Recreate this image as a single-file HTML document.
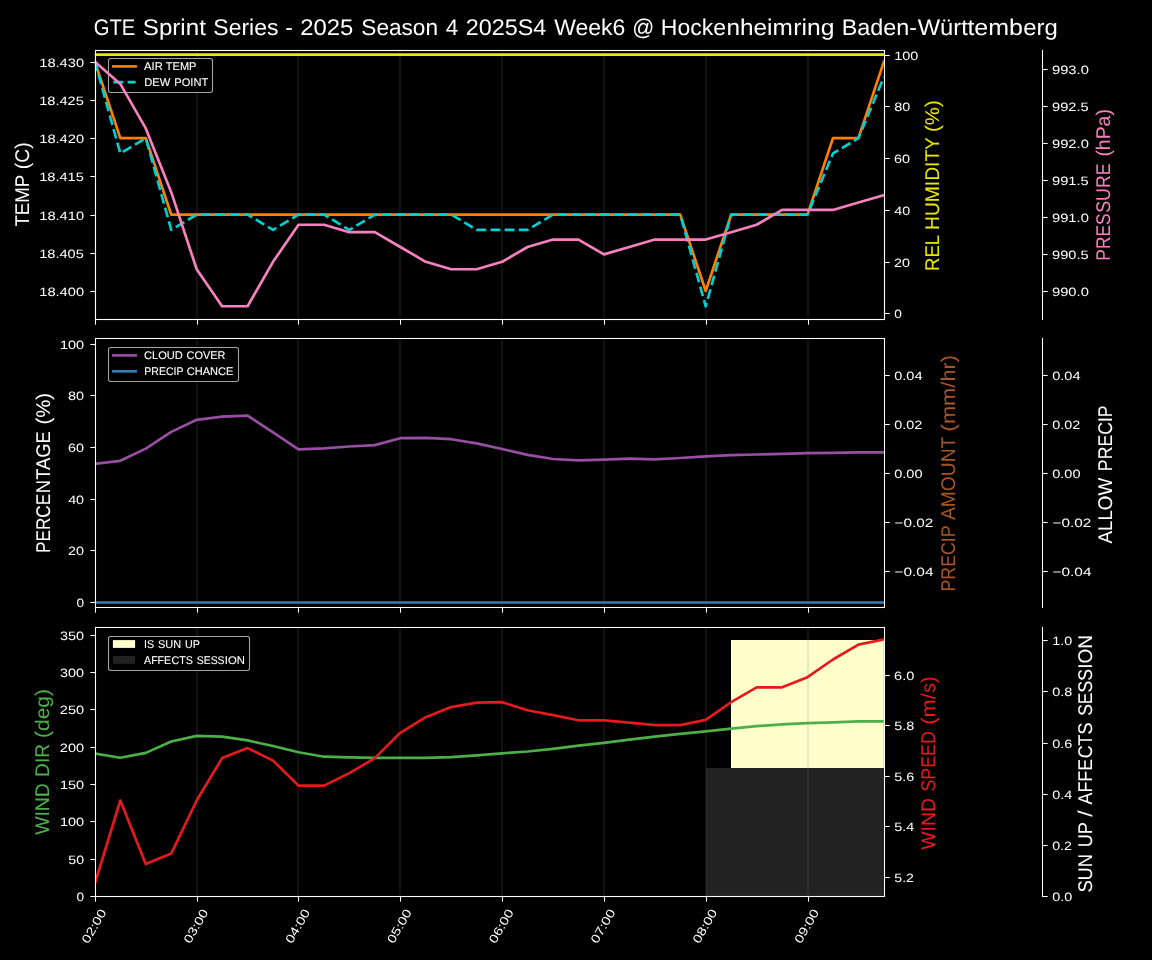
<!DOCTYPE html>
<html lang="en"><head><meta charset="utf-8"><title>GTE Sprint Series weather forecast</title>
<style>html,body{margin:0;padding:0;background:#000;overflow:hidden}svg{display:block;will-change:transform}text{text-rendering:geometricPrecision;font-family:"Liberation Sans",sans-serif}</style>
</head><body>
<svg width="1152" height="960" viewBox="0 0 1152 960">
<rect width="1152" height="960" fill="#000"/>
<defs>
<clipPath id="c0"><rect x="94.88" y="49.5" width="789" height="269"/></clipPath>
<clipPath id="c1"><rect x="94.88" y="338.36" width="789" height="269"/></clipPath>
<clipPath id="c2"><rect x="94.88" y="627.22" width="789" height="269"/></clipPath>
</defs>
<text font-size="22.61" fill="#ffffff" y="34.6" lengthAdjust="spacingAndGlyphs"><tspan x="93.65" textLength="41.61" lengthAdjust="spacingAndGlyphs">GTE</tspan> <tspan x="142.84" textLength="63.02" lengthAdjust="spacingAndGlyphs">Sprint</tspan> <tspan x="213.35" textLength="65.03" lengthAdjust="spacingAndGlyphs">Series</tspan> <tspan x="285.39" textLength="7.66" lengthAdjust="spacingAndGlyphs">-</tspan> <tspan x="300.21" textLength="53.07" lengthAdjust="spacingAndGlyphs">2025</tspan> <tspan x="361.3" textLength="76.7" lengthAdjust="spacingAndGlyphs">Season</tspan> <tspan x="445.65" textLength="12.51" lengthAdjust="spacingAndGlyphs">4</tspan> <tspan x="465.87" textLength="80.5" lengthAdjust="spacingAndGlyphs">2025S4</tspan> <tspan x="554.27" textLength="71.08" lengthAdjust="spacingAndGlyphs">Week6</tspan> <tspan x="632.17" textLength="22.02" lengthAdjust="spacingAndGlyphs">@</tspan> <tspan x="660.79" textLength="65.22" lengthAdjust="spacingAndGlyphs">Hocke</tspan><tspan x="726.44" textLength="66.35" lengthAdjust="spacingAndGlyphs">nheim</tspan><tspan x="793.3" textLength="41.11" lengthAdjust="spacingAndGlyphs">ring</tspan> <tspan x="841.71" textLength="75.42" lengthAdjust="spacingAndGlyphs">Baden-</tspan><tspan x="917.73" textLength="50.05" lengthAdjust="spacingAndGlyphs">Würt</tspan><tspan x="967.45" textLength="55.5" lengthAdjust="spacingAndGlyphs">temb</tspan><tspan x="1023.23" textLength="34.5" lengthAdjust="spacingAndGlyphs">erg</tspan></text>
<line x1="95" y1="49.5" x2="95" y2="318.5" stroke="#6e6e6e" stroke-opacity="0.155" stroke-width="2" clip-path="url(#c0)"/>
<line x1="197" y1="49.5" x2="197" y2="318.5" stroke="#6e6e6e" stroke-opacity="0.155" stroke-width="2" clip-path="url(#c0)"/>
<line x1="298" y1="49.5" x2="298" y2="318.5" stroke="#6e6e6e" stroke-opacity="0.155" stroke-width="2" clip-path="url(#c0)"/>
<line x1="400" y1="49.5" x2="400" y2="318.5" stroke="#6e6e6e" stroke-opacity="0.155" stroke-width="2" clip-path="url(#c0)"/>
<line x1="502" y1="49.5" x2="502" y2="318.5" stroke="#6e6e6e" stroke-opacity="0.155" stroke-width="2" clip-path="url(#c0)"/>
<line x1="604" y1="49.5" x2="604" y2="318.5" stroke="#6e6e6e" stroke-opacity="0.155" stroke-width="2" clip-path="url(#c0)"/>
<line x1="706" y1="49.5" x2="706" y2="318.5" stroke="#6e6e6e" stroke-opacity="0.155" stroke-width="2" clip-path="url(#c0)"/>
<line x1="808" y1="49.5" x2="808" y2="318.5" stroke="#6e6e6e" stroke-opacity="0.155" stroke-width="2" clip-path="url(#c0)"/>
<polyline points="94.88,61.73 120.33,138.15 145.78,138.15 171.23,214.57 196.68,214.57 222.13,214.57 247.58,214.57 273.04,214.57 298.49,214.57 323.94,214.57 349.39,214.57 374.84,214.57 400.29,214.57 425.75,214.57 451.2,214.57 476.65,214.57 502.1,214.57 527.55,214.57 553,214.57 578.46,214.57 603.91,214.57 629.36,214.57 654.81,214.57 680.26,214.57 705.71,290.99 731.17,214.57 756.62,214.57 782.07,214.57 807.52,214.57 832.97,138.15 858.42,138.15 883.88,61.73" fill="none" stroke="#ff7f00" stroke-width="2.67" stroke-linejoin="round" stroke-linecap="square" clip-path="url(#c0)"/>
<polyline points="94.88,61.73 120.33,153.43 145.78,138.15 171.23,229.85 196.68,214.57 222.13,214.57 247.58,214.57 273.04,229.85 298.49,214.57 323.94,214.57 349.39,229.85 374.84,214.57 400.29,214.57 425.75,214.57 451.2,214.57 476.65,229.85 502.1,229.85 527.55,229.85 553,214.57 578.46,214.57 603.91,214.57 629.36,214.57 654.81,214.57 680.26,214.57 705.71,306.27 731.17,214.57 756.62,214.57 782.07,214.57 807.52,214.57 832.97,153.43 858.42,138.15 883.88,77.01" fill="none" stroke="#00ced1" stroke-width="2.67" stroke-linejoin="round" stroke-dasharray="9.87 4.27" clip-path="url(#c0)" stroke-dashoffset="0.9"/>
<rect x="95.5" y="50.5" width="789" height="269" fill="none" stroke="#fff" stroke-width="1.07"/>
<line x1="1042.5" y1="50" x2="1042.5" y2="320" stroke="#ffffff" stroke-width="1.07"/>
<line x1="95.5" y1="319.5" x2="95.5" y2="324.7" stroke="#ffffff" stroke-width="1.07"/>
<line x1="197.5" y1="319.5" x2="197.5" y2="324.7" stroke="#ffffff" stroke-width="1.07"/>
<line x1="298.5" y1="319.5" x2="298.5" y2="324.7" stroke="#ffffff" stroke-width="1.07"/>
<line x1="400.5" y1="319.5" x2="400.5" y2="324.7" stroke="#ffffff" stroke-width="1.07"/>
<line x1="502.5" y1="319.5" x2="502.5" y2="324.7" stroke="#ffffff" stroke-width="1.07"/>
<line x1="604.5" y1="319.5" x2="604.5" y2="324.7" stroke="#ffffff" stroke-width="1.07"/>
<line x1="706.5" y1="319.5" x2="706.5" y2="324.7" stroke="#ffffff" stroke-width="1.07"/>
<line x1="808.5" y1="319.5" x2="808.5" y2="324.7" stroke="#ffffff" stroke-width="1.07"/>
<line x1="90.3" y1="62.5" x2="95.5" y2="62.5" stroke="#ffffff" stroke-width="1.07"/>
<text font-size="12.13" fill="#ffffff" y="66.85" lengthAdjust="spacingAndGlyphs" x="39.22" textLength="44.89">18.430</text>
<line x1="90.3" y1="100.5" x2="95.5" y2="100.5" stroke="#ffffff" stroke-width="1.07"/>
<text font-size="12.13" fill="#ffffff" y="104.85" lengthAdjust="spacingAndGlyphs" x="39.23" textLength="44.65">18.425</text>
<line x1="90.3" y1="138.5" x2="95.5" y2="138.5" stroke="#ffffff" stroke-width="1.07"/>
<text font-size="12.13" fill="#ffffff" y="142.85" lengthAdjust="spacingAndGlyphs" x="39.22" textLength="44.89">18.420</text>
<line x1="90.3" y1="176.5" x2="95.5" y2="176.5" stroke="#ffffff" stroke-width="1.07"/>
<text font-size="12.13" fill="#ffffff" y="180.85" lengthAdjust="spacingAndGlyphs" x="39.23" textLength="44.65">18.415</text>
<line x1="90.3" y1="215.5" x2="95.5" y2="215.5" stroke="#ffffff" stroke-width="1.07"/>
<text font-size="12.13" fill="#ffffff" y="219.85" lengthAdjust="spacingAndGlyphs" x="39.22" textLength="44.89">18.410</text>
<line x1="90.3" y1="253.5" x2="95.5" y2="253.5" stroke="#ffffff" stroke-width="1.07"/>
<text font-size="12.13" fill="#ffffff" y="257.85" lengthAdjust="spacingAndGlyphs" x="39.23" textLength="44.65">18.405</text>
<line x1="90.3" y1="291.5" x2="95.5" y2="291.5" stroke="#ffffff" stroke-width="1.07"/>
<text font-size="12.13" fill="#ffffff" y="295.85" lengthAdjust="spacingAndGlyphs" x="39.22" textLength="44.89">18.400</text>
<text transform="translate(29.4 184) rotate(-90)" font-size="19.79" fill="#ffffff" stroke="#ffffff" stroke-width="0.05" y="0" lengthAdjust="spacingAndGlyphs"><tspan x="-42.52" textLength="51.37" lengthAdjust="spacingAndGlyphs">TEMP</tspan> <tspan x="14.85" textLength="26.78" lengthAdjust="spacingAndGlyphs">(C)</tspan></text>
<rect x="108.5" y="58.5" width="104" height="34" rx="2.2" ry="2.2" fill="#000" fill-opacity="0.8" stroke="#cccccc" stroke-opacity="0.8" stroke-width="1.07"/>
<line x1="112.07" y1="66.4" x2="136.93" y2="66.4" stroke="#ff7f00" stroke-width="2.67"/>
<line x1="113.4" y1="82.2" x2="135.6" y2="82.2" stroke="#00ced1" stroke-width="2.67" stroke-dasharray="9.87 4.27"/>
<text font-size="11.11" fill="#ffffff" stroke="#ffffff" stroke-width="0.1" y="69.8" lengthAdjust="spacingAndGlyphs"><tspan x="144.06" textLength="18.73" lengthAdjust="spacingAndGlyphs">AIR</tspan> <tspan x="165.85" textLength="30.57" lengthAdjust="spacingAndGlyphs">TEMP</tspan></text>
<text font-size="11.11" fill="#ffffff" stroke="#ffffff" stroke-width="0.1" y="85.7" lengthAdjust="spacingAndGlyphs"><tspan x="144.17" textLength="26.06" lengthAdjust="spacingAndGlyphs">DEW</tspan> <tspan x="174.27" textLength="33.93" lengthAdjust="spacingAndGlyphs">POINT</tspan></text>
<line x1="94.88" y1="54.67" x2="883.88" y2="54.67" stroke="#e8e800" stroke-width="2.67"/>
<line x1="884.5" y1="55.5" x2="889.7" y2="55.5" stroke="#ffffff" stroke-width="1.07"/>
<text font-size="12.13" fill="#ffffff" y="59.85" lengthAdjust="spacingAndGlyphs" x="894.22" textLength="24.19">100</text>
<line x1="884.5" y1="106.5" x2="889.7" y2="106.5" stroke="#ffffff" stroke-width="1.07"/>
<text font-size="12.13" fill="#ffffff" y="110.85" lengthAdjust="spacingAndGlyphs" x="894.16" textLength="15.98">80</text>
<line x1="884.5" y1="158.5" x2="889.7" y2="158.5" stroke="#ffffff" stroke-width="1.07"/>
<text font-size="12.13" fill="#ffffff" y="162.85" lengthAdjust="spacingAndGlyphs" x="894.07" textLength="16.07">60</text>
<line x1="884.5" y1="210.5" x2="889.7" y2="210.5" stroke="#ffffff" stroke-width="1.07"/>
<text font-size="12.13" fill="#ffffff" y="214.85" lengthAdjust="spacingAndGlyphs" x="894.21" textLength="15.93">40</text>
<line x1="884.5" y1="262.5" x2="889.7" y2="262.5" stroke="#ffffff" stroke-width="1.07"/>
<text font-size="12.13" fill="#ffffff" y="266.85" lengthAdjust="spacingAndGlyphs" x="894.13" textLength="16.01">20</text>
<line x1="884.5" y1="313.5" x2="889.7" y2="313.5" stroke="#ffffff" stroke-width="1.07"/>
<text font-size="12.13" fill="#ffffff" y="317.85" lengthAdjust="spacingAndGlyphs" x="894.22" textLength="7.62">0</text>
<text transform="translate(938.8 185.6) rotate(-90)" font-size="19.79" fill="#e8e800" stroke="#e8e800" stroke-width="0.05" y="0" lengthAdjust="spacingAndGlyphs"><tspan x="-85.32" textLength="35.33" lengthAdjust="spacingAndGlyphs">REL</tspan> <tspan x="-44.31" textLength="48.99" lengthAdjust="spacingAndGlyphs">HUMI</tspan><tspan x="5.03" textLength="42.85" lengthAdjust="spacingAndGlyphs">DITY</tspan> <tspan x="53.71" textLength="31.62" lengthAdjust="spacingAndGlyphs">(%)</tspan></text>
<polyline points="94.88,61.73 120.33,83.96 145.78,128.42 171.23,192.14 196.68,269.21 222.13,306.26 247.58,306.26 273.04,261.8 298.49,224.75 323.94,224.75 349.39,232.16 374.84,232.16 400.29,246.98 425.75,261.8 451.2,269.21 476.65,269.21 502.1,261.8 527.55,246.98 553,239.57 578.46,239.57 603.91,254.39 629.36,246.98 654.81,239.57 680.26,239.57 705.71,239.57 731.17,232.16 756.62,224.75 782.07,209.93 807.52,209.93 832.97,209.93 858.42,202.52 883.88,195.11" fill="none" stroke="#f781bf" stroke-width="2.67" stroke-linejoin="round" stroke-linecap="square" clip-path="url(#c0)"/>
<line x1="1042.5" y1="69.5" x2="1047.7" y2="69.5" stroke="#ffffff" stroke-width="1.07"/>
<text font-size="12.13" fill="#ffffff" y="73.85" lengthAdjust="spacingAndGlyphs" x="1052.03" textLength="36.8">993.0</text>
<line x1="1042.5" y1="106.5" x2="1047.7" y2="106.5" stroke="#ffffff" stroke-width="1.07"/>
<text font-size="12.13" fill="#ffffff" y="110.85" lengthAdjust="spacingAndGlyphs" x="1052.03" textLength="36.56">992.5</text>
<line x1="1042.5" y1="143.5" x2="1047.7" y2="143.5" stroke="#ffffff" stroke-width="1.07"/>
<text font-size="12.13" fill="#ffffff" y="147.85" lengthAdjust="spacingAndGlyphs" x="1052.03" textLength="36.8">992.0</text>
<line x1="1042.5" y1="180.5" x2="1047.7" y2="180.5" stroke="#ffffff" stroke-width="1.07"/>
<text font-size="12.13" fill="#ffffff" y="184.85" lengthAdjust="spacingAndGlyphs" x="1052.03" textLength="36.56">991.5</text>
<line x1="1042.5" y1="217.5" x2="1047.7" y2="217.5" stroke="#ffffff" stroke-width="1.07"/>
<text font-size="12.13" fill="#ffffff" y="221.85" lengthAdjust="spacingAndGlyphs" x="1052.03" textLength="36.8">991.0</text>
<line x1="1042.5" y1="254.5" x2="1047.7" y2="254.5" stroke="#ffffff" stroke-width="1.07"/>
<text font-size="12.13" fill="#ffffff" y="258.85" lengthAdjust="spacingAndGlyphs" x="1052.03" textLength="36.56">990.5</text>
<line x1="1042.5" y1="291.5" x2="1047.7" y2="291.5" stroke="#ffffff" stroke-width="1.07"/>
<text font-size="12.13" fill="#ffffff" y="295.85" lengthAdjust="spacingAndGlyphs" x="1052.03" textLength="36.8">990.0</text>
<text transform="translate(1109.5 184.9) rotate(-90)" font-size="19.79" fill="#f781bf" stroke="#f781bf" stroke-width="0.05" y="0" lengthAdjust="spacingAndGlyphs"><tspan x="-75.76" textLength="47.22" lengthAdjust="spacingAndGlyphs">PRES</tspan><tspan x="-27.87" textLength="49.42" lengthAdjust="spacingAndGlyphs">SURE</tspan> <tspan x="28.31" textLength="47.45" lengthAdjust="spacingAndGlyphs">(hPa)</tspan></text>
<rect x="95.5" y="50.5" width="789" height="269" fill="none" stroke="#fff" stroke-width="1.07"/>
<line x1="95" y1="338.36" x2="95" y2="607.36" stroke="#6e6e6e" stroke-opacity="0.155" stroke-width="2" clip-path="url(#c1)"/>
<line x1="197" y1="338.36" x2="197" y2="607.36" stroke="#6e6e6e" stroke-opacity="0.155" stroke-width="2" clip-path="url(#c1)"/>
<line x1="298" y1="338.36" x2="298" y2="607.36" stroke="#6e6e6e" stroke-opacity="0.155" stroke-width="2" clip-path="url(#c1)"/>
<line x1="400" y1="338.36" x2="400" y2="607.36" stroke="#6e6e6e" stroke-opacity="0.155" stroke-width="2" clip-path="url(#c1)"/>
<line x1="502" y1="338.36" x2="502" y2="607.36" stroke="#6e6e6e" stroke-opacity="0.155" stroke-width="2" clip-path="url(#c1)"/>
<line x1="604" y1="338.36" x2="604" y2="607.36" stroke="#6e6e6e" stroke-opacity="0.155" stroke-width="2" clip-path="url(#c1)"/>
<line x1="706" y1="338.36" x2="706" y2="607.36" stroke="#6e6e6e" stroke-opacity="0.155" stroke-width="2" clip-path="url(#c1)"/>
<line x1="808" y1="338.36" x2="808" y2="607.36" stroke="#6e6e6e" stroke-opacity="0.155" stroke-width="2" clip-path="url(#c1)"/>
<polyline points="94.88,463.9 120.33,460.8 145.78,448.6 171.23,431.9 196.68,419.8 222.13,416.7 247.58,415.6 273.04,432.4 298.49,449.3 323.94,448.3 349.39,446.5 374.84,445.1 400.29,438.2 425.75,437.8 451.2,439.2 476.65,443.4 502.1,449 527.55,454.9 553,459 578.46,460.4 603.91,459.7 629.36,458.7 654.81,459.4 680.26,458 705.71,456.3 731.17,455.2 756.62,454.5 782.07,453.8 807.52,453.1 832.97,452.8 858.42,452.4 883.88,452.3" fill="none" stroke="#984ea3" stroke-width="2.67" stroke-linejoin="round" stroke-linecap="square" clip-path="url(#c1)"/>
<line x1="94.88" y1="602.5" x2="883.88" y2="602.5" stroke="#377eb8" stroke-width="2.67"/>
<rect x="95.5" y="338.5" width="789" height="269" fill="none" stroke="#fff" stroke-width="1.07"/>
<line x1="1042.5" y1="338" x2="1042.5" y2="608" stroke="#ffffff" stroke-width="1.07"/>
<line x1="95.5" y1="607.5" x2="95.5" y2="612.7" stroke="#ffffff" stroke-width="1.07"/>
<line x1="197.5" y1="607.5" x2="197.5" y2="612.7" stroke="#ffffff" stroke-width="1.07"/>
<line x1="298.5" y1="607.5" x2="298.5" y2="612.7" stroke="#ffffff" stroke-width="1.07"/>
<line x1="400.5" y1="607.5" x2="400.5" y2="612.7" stroke="#ffffff" stroke-width="1.07"/>
<line x1="502.5" y1="607.5" x2="502.5" y2="612.7" stroke="#ffffff" stroke-width="1.07"/>
<line x1="604.5" y1="607.5" x2="604.5" y2="612.7" stroke="#ffffff" stroke-width="1.07"/>
<line x1="706.5" y1="607.5" x2="706.5" y2="612.7" stroke="#ffffff" stroke-width="1.07"/>
<line x1="808.5" y1="607.5" x2="808.5" y2="612.7" stroke="#ffffff" stroke-width="1.07"/>
<line x1="90.3" y1="344.5" x2="95.5" y2="344.5" stroke="#ffffff" stroke-width="1.07"/>
<text font-size="12.13" fill="#ffffff" y="348.85" lengthAdjust="spacingAndGlyphs" x="59.91" textLength="24.19">100</text>
<line x1="90.3" y1="395.5" x2="95.5" y2="395.5" stroke="#ffffff" stroke-width="1.07"/>
<text font-size="12.13" fill="#ffffff" y="399.85" lengthAdjust="spacingAndGlyphs" x="68.12" textLength="15.98">80</text>
<line x1="90.3" y1="447.5" x2="95.5" y2="447.5" stroke="#ffffff" stroke-width="1.07"/>
<text font-size="12.13" fill="#ffffff" y="451.85" lengthAdjust="spacingAndGlyphs" x="68.03" textLength="16.07">60</text>
<line x1="90.3" y1="499.5" x2="95.5" y2="499.5" stroke="#ffffff" stroke-width="1.07"/>
<text font-size="12.13" fill="#ffffff" y="503.85" lengthAdjust="spacingAndGlyphs" x="68.16" textLength="15.93">40</text>
<line x1="90.3" y1="550.5" x2="95.5" y2="550.5" stroke="#ffffff" stroke-width="1.07"/>
<text font-size="12.13" fill="#ffffff" y="554.85" lengthAdjust="spacingAndGlyphs" x="68.09" textLength="16.01">20</text>
<line x1="90.3" y1="602.5" x2="95.5" y2="602.5" stroke="#ffffff" stroke-width="1.07"/>
<text font-size="12.13" fill="#ffffff" y="606.85" lengthAdjust="spacingAndGlyphs" x="76.45" textLength="7.62">0</text>
<text transform="translate(50 473) rotate(-90)" font-size="19.79" fill="#ffffff" stroke="#ffffff" stroke-width="0.05" y="0" lengthAdjust="spacingAndGlyphs"><tspan x="-79.96" textLength="59.04" lengthAdjust="spacingAndGlyphs">PERCE</tspan><tspan x="-20.14" textLength="61.89" lengthAdjust="spacingAndGlyphs">NTAGE</tspan> <tspan x="48.43" textLength="31.62" lengthAdjust="spacingAndGlyphs">(%)</tspan></text>
<rect x="108.5" y="347.5" width="130" height="34" rx="2.2" ry="2.2" fill="#000" fill-opacity="0.8" stroke="#cccccc" stroke-opacity="0.8" stroke-width="1.07"/>
<line x1="112.07" y1="355.4" x2="136.93" y2="355.4" stroke="#984ea3" stroke-width="2.67"/>
<line x1="112.07" y1="371.3" x2="136.93" y2="371.3" stroke="#377eb8" stroke-width="2.67"/>
<text font-size="11.11" fill="#ffffff" stroke="#ffffff" stroke-width="0.1" y="358.9" lengthAdjust="spacingAndGlyphs"><tspan x="144.06" textLength="38.8" lengthAdjust="spacingAndGlyphs">CLOUD</tspan> <tspan x="186.59" textLength="38.77" lengthAdjust="spacingAndGlyphs">COVER</tspan></text>
<text font-size="11.11" fill="#ffffff" stroke="#ffffff" stroke-width="0.1" y="374.8" lengthAdjust="spacingAndGlyphs"><tspan x="144.23" textLength="39.12" lengthAdjust="spacingAndGlyphs">PRECIP</tspan> <tspan x="186.77" textLength="46.5" lengthAdjust="spacingAndGlyphs">CHANCE</tspan></text>
<line x1="884.5" y1="375.5" x2="889.7" y2="375.5" stroke="#ffffff" stroke-width="1.07"/>
<text font-size="12.13" fill="#ffffff" y="379.85" lengthAdjust="spacingAndGlyphs" x="894.19" textLength="28.35">0.04</text>
<line x1="884.5" y1="424.5" x2="889.7" y2="424.5" stroke="#ffffff" stroke-width="1.07"/>
<text font-size="12.13" fill="#ffffff" y="428.85" lengthAdjust="spacingAndGlyphs" x="894.19" textLength="28.08">0.02</text>
<line x1="884.5" y1="473.5" x2="889.7" y2="473.5" stroke="#ffffff" stroke-width="1.07"/>
<text font-size="12.13" fill="#ffffff" y="477.85" lengthAdjust="spacingAndGlyphs" x="894.19" textLength="28.36">0.00</text>
<line x1="884.5" y1="522.5" x2="889.7" y2="522.5" stroke="#ffffff" stroke-width="1.07"/>
<text font-size="12.13" fill="#ffffff" y="526.85" lengthAdjust="spacingAndGlyphs" x="894.52" textLength="38.68">−0.02</text>
<line x1="884.5" y1="571.5" x2="889.7" y2="571.5" stroke="#ffffff" stroke-width="1.07"/>
<text font-size="12.13" fill="#ffffff" y="575.85" lengthAdjust="spacingAndGlyphs" x="894.52" textLength="38.94">−0.04</text>
<text transform="translate(955 473.4) rotate(-90)" font-size="19.79" fill="#a65628" stroke="#a65628" stroke-width="0.05" y="0" lengthAdjust="spacingAndGlyphs"><tspan x="-118.12" textLength="65.73" lengthAdjust="spacingAndGlyphs">PRECIP</tspan> <tspan x="-46.65" textLength="82.98" lengthAdjust="spacingAndGlyphs">AMOUNT</tspan> <tspan x="42.03" textLength="49.69" lengthAdjust="spacingAndGlyphs">(mm/</tspan><tspan x="91.92" textLength="26.32" lengthAdjust="spacingAndGlyphs">hr)</tspan></text>
<line x1="1042.5" y1="375.5" x2="1047.7" y2="375.5" stroke="#ffffff" stroke-width="1.07"/>
<text font-size="12.13" fill="#ffffff" y="379.85" lengthAdjust="spacingAndGlyphs" x="1052.19" textLength="28.35">0.04</text>
<line x1="1042.5" y1="424.5" x2="1047.7" y2="424.5" stroke="#ffffff" stroke-width="1.07"/>
<text font-size="12.13" fill="#ffffff" y="428.85" lengthAdjust="spacingAndGlyphs" x="1052.19" textLength="28.08">0.02</text>
<line x1="1042.5" y1="473.5" x2="1047.7" y2="473.5" stroke="#ffffff" stroke-width="1.07"/>
<text font-size="12.13" fill="#ffffff" y="477.85" lengthAdjust="spacingAndGlyphs" x="1052.19" textLength="28.36">0.00</text>
<line x1="1042.5" y1="522.5" x2="1047.7" y2="522.5" stroke="#ffffff" stroke-width="1.07"/>
<text font-size="12.13" fill="#ffffff" y="526.85" lengthAdjust="spacingAndGlyphs" x="1052.52" textLength="38.68">−0.02</text>
<line x1="1042.5" y1="571.5" x2="1047.7" y2="571.5" stroke="#ffffff" stroke-width="1.07"/>
<text font-size="12.13" fill="#ffffff" y="575.85" lengthAdjust="spacingAndGlyphs" x="1052.52" textLength="38.94">−0.04</text>
<text transform="translate(1112.3 474.6) rotate(-90)" font-size="19.79" fill="#ffffff" stroke="#ffffff" stroke-width="0.05" y="0" lengthAdjust="spacingAndGlyphs"><tspan x="-68.79" textLength="65.4" lengthAdjust="spacingAndGlyphs">ALLOW</tspan> <tspan x="3.47" textLength="65.73" lengthAdjust="spacingAndGlyphs">PRECIP</tspan></text>
<rect x="731" y="640" width="152.88" height="128" fill="#ffffcc"/>
<rect x="706" y="768" width="177.88" height="128.5" fill="#222222"/>
<line x1="95" y1="627.22" x2="95" y2="896.22" stroke="#6e6e6e" stroke-opacity="0.155" stroke-width="2" clip-path="url(#c2)"/>
<line x1="197" y1="627.22" x2="197" y2="896.22" stroke="#6e6e6e" stroke-opacity="0.155" stroke-width="2" clip-path="url(#c2)"/>
<line x1="298" y1="627.22" x2="298" y2="896.22" stroke="#6e6e6e" stroke-opacity="0.155" stroke-width="2" clip-path="url(#c2)"/>
<line x1="400" y1="627.22" x2="400" y2="896.22" stroke="#6e6e6e" stroke-opacity="0.155" stroke-width="2" clip-path="url(#c2)"/>
<line x1="502" y1="627.22" x2="502" y2="896.22" stroke="#6e6e6e" stroke-opacity="0.155" stroke-width="2" clip-path="url(#c2)"/>
<line x1="604" y1="627.22" x2="604" y2="896.22" stroke="#6e6e6e" stroke-opacity="0.155" stroke-width="2" clip-path="url(#c2)"/>
<line x1="706" y1="627.22" x2="706" y2="896.22" stroke="#6e6e6e" stroke-opacity="0.155" stroke-width="2" clip-path="url(#c2)"/>
<line x1="808" y1="627.22" x2="808" y2="896.22" stroke="#6e6e6e" stroke-opacity="0.155" stroke-width="2" clip-path="url(#c2)"/>
<polyline points="94.88,753.6 120.33,757.8 145.78,752.9 171.23,741.5 196.68,735.9 222.13,736.6 247.58,740.4 273.04,746 298.49,752.2 323.94,756.7 349.39,757.4 374.84,757.8 400.29,757.8 425.75,757.8 451.2,757.1 476.65,755.3 502.1,753.3 527.55,751.5 553,748.8 578.46,745.6 603.91,742.8 629.36,739.7 654.81,736.6 680.26,733.8 705.71,731.4 731.17,728.6 756.62,726.2 782.07,724.4 807.52,723.1 832.97,722.4 858.42,721.3 883.88,721.3" fill="none" stroke="#4daf4a" stroke-width="2.67" stroke-linejoin="round" stroke-linecap="square" clip-path="url(#c2)"/>
<polyline points="94.88,883.5 120.33,800.5 145.78,864 171.23,853.6 196.68,800.5 222.13,758.1 247.58,748.1 273.04,760.6 298.49,785.6 323.94,785.6 349.39,773.1 374.84,758.1 400.29,732.8 425.75,717.2 451.2,707.1 476.65,702.6 502.1,702.2 527.55,710.2 553,715.1 578.46,720.3 603.91,720.3 629.36,722.7 654.81,725.1 680.26,725.1 705.71,719.9 731.17,702.2 756.62,687.3 782.07,687.3 807.52,677.2 832.97,659.5 858.42,644.6 883.88,639.4" fill="none" stroke="#e41a1c" stroke-width="2.67" stroke-linejoin="round" stroke-linecap="square" clip-path="url(#c2)"/>
<rect x="95.5" y="627.5" width="789" height="269" fill="none" stroke="#fff" stroke-width="1.07"/>
<line x1="1042.5" y1="627" x2="1042.5" y2="897" stroke="#ffffff" stroke-width="1.07"/>
<line x1="95.5" y1="896.5" x2="95.5" y2="901.7" stroke="#ffffff" stroke-width="1.07"/>
<line x1="197.5" y1="896.5" x2="197.5" y2="901.7" stroke="#ffffff" stroke-width="1.07"/>
<line x1="298.5" y1="896.5" x2="298.5" y2="901.7" stroke="#ffffff" stroke-width="1.07"/>
<line x1="400.5" y1="896.5" x2="400.5" y2="901.7" stroke="#ffffff" stroke-width="1.07"/>
<line x1="502.5" y1="896.5" x2="502.5" y2="901.7" stroke="#ffffff" stroke-width="1.07"/>
<line x1="604.5" y1="896.5" x2="604.5" y2="901.7" stroke="#ffffff" stroke-width="1.07"/>
<line x1="706.5" y1="896.5" x2="706.5" y2="901.7" stroke="#ffffff" stroke-width="1.07"/>
<line x1="808.5" y1="896.5" x2="808.5" y2="901.7" stroke="#ffffff" stroke-width="1.07"/>
<line x1="90.3" y1="635.5" x2="95.5" y2="635.5" stroke="#ffffff" stroke-width="1.07"/>
<text font-size="12.13" fill="#ffffff" y="639.85" lengthAdjust="spacingAndGlyphs" x="60.03" textLength="24.07">350</text>
<line x1="90.3" y1="672.5" x2="95.5" y2="672.5" stroke="#ffffff" stroke-width="1.07"/>
<text font-size="12.13" fill="#ffffff" y="676.85" lengthAdjust="spacingAndGlyphs" x="60.03" textLength="24.07">300</text>
<line x1="90.3" y1="709.5" x2="95.5" y2="709.5" stroke="#ffffff" stroke-width="1.07"/>
<text font-size="12.13" fill="#ffffff" y="713.85" lengthAdjust="spacingAndGlyphs" x="59.81" textLength="24.3">250</text>
<line x1="90.3" y1="747.5" x2="95.5" y2="747.5" stroke="#ffffff" stroke-width="1.07"/>
<text font-size="12.13" fill="#ffffff" y="751.85" lengthAdjust="spacingAndGlyphs" x="59.81" textLength="24.3">200</text>
<line x1="90.3" y1="784.5" x2="95.5" y2="784.5" stroke="#ffffff" stroke-width="1.07"/>
<text font-size="12.13" fill="#ffffff" y="788.85" lengthAdjust="spacingAndGlyphs" x="59.91" textLength="24.19">150</text>
<line x1="90.3" y1="821.5" x2="95.5" y2="821.5" stroke="#ffffff" stroke-width="1.07"/>
<text font-size="12.13" fill="#ffffff" y="825.85" lengthAdjust="spacingAndGlyphs" x="59.91" textLength="24.19">100</text>
<line x1="90.3" y1="859.5" x2="95.5" y2="859.5" stroke="#ffffff" stroke-width="1.07"/>
<text font-size="12.13" fill="#ffffff" y="863.85" lengthAdjust="spacingAndGlyphs" x="68.29" textLength="15.8">50</text>
<line x1="90.3" y1="896.5" x2="95.5" y2="896.5" stroke="#ffffff" stroke-width="1.07"/>
<text font-size="12.13" fill="#ffffff" y="900.85" lengthAdjust="spacingAndGlyphs" x="76.45" textLength="7.62">0</text>
<text transform="translate(49.1 762) rotate(-90)" font-size="19.79" fill="#4daf4a" stroke="#4daf4a" stroke-width="0.05" y="0" lengthAdjust="spacingAndGlyphs"><tspan x="-72.85" textLength="51.59" lengthAdjust="spacingAndGlyphs">WIND</tspan> <tspan x="-14.89" textLength="32.94" lengthAdjust="spacingAndGlyphs">DIR</tspan> <tspan x="23.93" textLength="49.15" lengthAdjust="spacingAndGlyphs">(deg)</tspan></text>
<rect x="108.5" y="636.5" width="141" height="34" rx="2.2" ry="2.2" fill="#000" fill-opacity="0.8" stroke="#cccccc" stroke-opacity="0.8" stroke-width="1.07"/>
<rect x="112.9" y="640.1" width="22.2" height="7.8" fill="#ffffcc"/>
<rect x="112.9" y="656.0" width="22.2" height="7.8" fill="#222222"/>
<text font-size="11.11" fill="#ffffff" stroke="#ffffff" stroke-width="0.1" y="647.8" lengthAdjust="spacingAndGlyphs"><tspan x="144.1" textLength="10.1" lengthAdjust="spacingAndGlyphs">IS</tspan> <tspan x="158.1" textLength="23.06" lengthAdjust="spacingAndGlyphs">SUN</tspan> <tspan x="185.03" textLength="14.88" lengthAdjust="spacingAndGlyphs">UP</tspan></text>
<text font-size="11.11" fill="#ffffff" stroke="#ffffff" stroke-width="0.1" y="663.8" lengthAdjust="spacingAndGlyphs"><tspan x="144.07" textLength="27.08" lengthAdjust="spacingAndGlyphs">AFFE</tspan><tspan x="171.48" textLength="21.39" lengthAdjust="spacingAndGlyphs">CTS</tspan> <tspan x="196.79" textLength="27.78" lengthAdjust="spacingAndGlyphs">SESS</tspan><tspan x="224.76" textLength="20.12" lengthAdjust="spacingAndGlyphs">ION</tspan></text>
<line x1="884.5" y1="675.5" x2="889.7" y2="675.5" stroke="#ffffff" stroke-width="1.07"/>
<text font-size="12.13" fill="#ffffff" y="679.85" lengthAdjust="spacingAndGlyphs" x="894.07" textLength="20.21">6.0</text>
<line x1="884.5" y1="725.5" x2="889.7" y2="725.5" stroke="#ffffff" stroke-width="1.07"/>
<text font-size="12.13" fill="#ffffff" y="729.85" lengthAdjust="spacingAndGlyphs" x="894.33" textLength="19.98">5.8</text>
<line x1="884.5" y1="776.5" x2="889.7" y2="776.5" stroke="#ffffff" stroke-width="1.07"/>
<text font-size="12.13" fill="#ffffff" y="780.85" lengthAdjust="spacingAndGlyphs" x="894.33" textLength="20.06">5.6</text>
<line x1="884.5" y1="826.5" x2="889.7" y2="826.5" stroke="#ffffff" stroke-width="1.07"/>
<text font-size="12.13" fill="#ffffff" y="830.85" lengthAdjust="spacingAndGlyphs" x="894.33" textLength="19.94">5.4</text>
<line x1="884.5" y1="877.5" x2="889.7" y2="877.5" stroke="#ffffff" stroke-width="1.07"/>
<text font-size="12.13" fill="#ffffff" y="881.85" lengthAdjust="spacingAndGlyphs" x="894.34" textLength="19.65">5.2</text>
<text transform="translate(935 763.2) rotate(-90)" font-size="19.79" fill="#e41a1c" stroke="#e41a1c" stroke-width="0.05" y="0" lengthAdjust="spacingAndGlyphs"><tspan x="-86.47" textLength="51.59" lengthAdjust="spacingAndGlyphs">WIND</tspan> <tspan x="-28.35" textLength="60.4" lengthAdjust="spacingAndGlyphs">SPEED</tspan> <tspan x="38.49" textLength="31.5" lengthAdjust="spacingAndGlyphs">(m/</tspan><tspan x="70.47" textLength="16.13" lengthAdjust="spacingAndGlyphs">s)</tspan></text>
<line x1="1042.5" y1="640.5" x2="1047.7" y2="640.5" stroke="#ffffff" stroke-width="1.07"/>
<text font-size="12.13" fill="#ffffff" y="644.85" lengthAdjust="spacingAndGlyphs" x="1052.23" textLength="20.04">1.0</text>
<line x1="1042.5" y1="691.5" x2="1047.7" y2="691.5" stroke="#ffffff" stroke-width="1.07"/>
<text font-size="12.13" fill="#ffffff" y="695.85" lengthAdjust="spacingAndGlyphs" x="1052.19" textLength="20.12">0.8</text>
<line x1="1042.5" y1="743.5" x2="1047.7" y2="743.5" stroke="#ffffff" stroke-width="1.07"/>
<text font-size="12.13" fill="#ffffff" y="747.85" lengthAdjust="spacingAndGlyphs" x="1052.19" textLength="20.2">0.6</text>
<line x1="1042.5" y1="794.5" x2="1047.7" y2="794.5" stroke="#ffffff" stroke-width="1.07"/>
<text font-size="12.13" fill="#ffffff" y="798.85" lengthAdjust="spacingAndGlyphs" x="1052.19" textLength="20.07">0.4</text>
<line x1="1042.5" y1="845.5" x2="1047.7" y2="845.5" stroke="#ffffff" stroke-width="1.07"/>
<text font-size="12.13" fill="#ffffff" y="849.85" lengthAdjust="spacingAndGlyphs" x="1052.2" textLength="19.79">0.2</text>
<line x1="1042.5" y1="896.5" x2="1047.7" y2="896.5" stroke="#ffffff" stroke-width="1.07"/>
<text font-size="12.13" fill="#ffffff" y="900.85" lengthAdjust="spacingAndGlyphs" x="1052.19" textLength="20.08">0.0</text>
<text transform="translate(1092.2 763.9) rotate(-90)" font-size="19.79" fill="#ffffff" stroke="#ffffff" stroke-width="0.05" y="0" lengthAdjust="spacingAndGlyphs"><tspan x="-128.73" textLength="38.74" lengthAdjust="spacingAndGlyphs">SUN</tspan> <tspan x="-83.48" textLength="25" lengthAdjust="spacingAndGlyphs">UP</tspan> <tspan x="-52.86" textLength="6.29" lengthAdjust="spacingAndGlyphs">/</tspan> <tspan x="-40.53" textLength="45.5" lengthAdjust="spacingAndGlyphs">AFFE</tspan><tspan x="5.54" textLength="35.94" lengthAdjust="spacingAndGlyphs">CTS</tspan> <tspan x="48.06" textLength="46.67" lengthAdjust="spacingAndGlyphs">SESS</tspan><tspan x="95.04" textLength="33.8" lengthAdjust="spacingAndGlyphs">ION</tspan></text>
<g transform="translate(93.78 926) rotate(-60)">
<text font-size="12.13" fill="#ffffff" y="4.35" lengthAdjust="spacingAndGlyphs" x="-18.45" textLength="36.89">02:00</text>
</g>
<g transform="translate(195.58 926) rotate(-60)">
<text font-size="12.13" fill="#ffffff" y="4.35" lengthAdjust="spacingAndGlyphs" x="-18.45" textLength="36.89">03:00</text>
</g>
<g transform="translate(297.39 926) rotate(-60)">
<text font-size="12.13" fill="#ffffff" y="4.35" lengthAdjust="spacingAndGlyphs" x="-18.45" textLength="36.89">04:00</text>
</g>
<g transform="translate(399.19 926) rotate(-60)">
<text font-size="12.13" fill="#ffffff" y="4.35" lengthAdjust="spacingAndGlyphs" x="-18.45" textLength="36.89">05:00</text>
</g>
<g transform="translate(501 926) rotate(-60)">
<text font-size="12.13" fill="#ffffff" y="4.35" lengthAdjust="spacingAndGlyphs" x="-18.45" textLength="36.89">06:00</text>
</g>
<g transform="translate(602.81 926) rotate(-60)">
<text font-size="12.13" fill="#ffffff" y="4.35" lengthAdjust="spacingAndGlyphs" x="-18.45" textLength="36.89">07:00</text>
</g>
<g transform="translate(704.61 926) rotate(-60)">
<text font-size="12.13" fill="#ffffff" y="4.35" lengthAdjust="spacingAndGlyphs" x="-18.45" textLength="36.89">08:00</text>
</g>
<g transform="translate(806.42 926) rotate(-60)">
<text font-size="12.13" fill="#ffffff" y="4.35" lengthAdjust="spacingAndGlyphs" x="-18.45" textLength="36.89">09:00</text>
</g>
</svg>
</body></html>
